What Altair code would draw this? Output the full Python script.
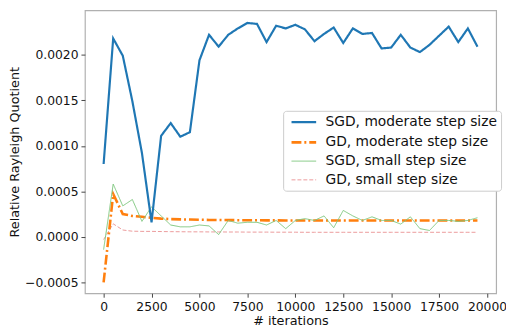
import altair as alt
import pandas as pd

iterations = [i * 500 for i in range(40)]

sgd_moderate = [0.00080, 0.00218, 0.00199, 0.00149, 0.00092, 0.00016, 0.00111, 0.00125, 0.00110, 0.00115,
                0.00194, 0.00222, 0.00209, 0.00222, 0.00229, 0.00235, 0.00234, 0.00214, 0.00232, 0.00229,
                0.00233, 0.00228, 0.00215, 0.00223, 0.00230, 0.00213, 0.00229, 0.00223, 0.00224, 0.00207,
                0.00208, 0.00222, 0.00208, 0.00203, 0.00211, 0.00221, 0.00231, 0.00214, 0.00229, 0.00209]

gd_moderate = [-0.00050, 0.00047, 0.00025, 0.00023, 0.00022, 0.00021, 0.000200, 0.000195, 0.000192, 0.000190,
               0.000188, 0.000186, 0.000185, 0.000184, 0.000183, 0.000182, 0.000182, 0.000181, 0.000181, 0.000180,
               0.000180, 0.000180, 0.000180, 0.000180, 0.000180, 0.000180, 0.000180, 0.000180, 0.000180, 0.000180,
               0.000180, 0.000180, 0.000180, 0.000180, 0.000180, 0.000180, 0.000180, 0.000180, 0.000180, 0.000180]

sgd_small = [-0.00014, 0.00058, 0.00034, 0.00041, 0.00017, 0.00033, 0.00023, 0.00013, 0.00011, 0.00011,
             0.00013, 0.00012, 0.000025, 0.00018, 0.00015, 0.00016, 0.00016, 0.00013, 0.00018, 0.00009,
             0.00018, 0.00020, 0.00018, 0.00023, 0.00010, 0.00029, 0.00023, 0.00018, 0.00022, 0.00018,
             0.00018, 0.00014, 0.00022, 0.00009, 0.00007, 0.00018, 0.00018, 0.00017, 0.00018, 0.00021]

gd_small = [-0.00003, 0.000143, 0.000075, 0.000062, 0.000060, 0.000060, 0.000058, 0.000057, 0.000056, 0.000055,
            0.000055, 0.000054, 0.000054, 0.000053, 0.000053, 0.000052, 0.000052, 0.000052, 0.000051, 0.000051,
            0.000051, 0.000050, 0.000050, 0.000050, 0.000050, 0.000050, 0.000050, 0.000050, 0.000050, 0.000050,
            0.000050, 0.000050, 0.000050, 0.000050, 0.000050, 0.000050, 0.000050, 0.000050, 0.000050, 0.000050]

series_names = ["SGD, moderate step size", "GD, moderate step size",
                "SGD, small step size", "GD, small step size"]
series_values = [sgd_moderate, gd_moderate, sgd_small, gd_small]
series_colors = ["#1f77b4", "#ff7f0e", "#7dc67d", "#ec9a9b"]
series_dash = [[1, 0], [10, 3, 2, 3], [1, 0], [4, 2]]
series_width = [2.2, 2.6, 1.0, 1.0]
draw_order = ["GD, small step size", "GD, moderate step size",
              "SGD, small step size", "SGD, moderate step size"]

x_ticks = [0, 2500, 5000, 7500, 10000, 12500, 15000, 17500, 20000]
y_ticks = [-0.0005, 0.0, 0.0005, 0.0010, 0.0015, 0.0020]

rows = []
for name, vals in zip(series_names, series_values):
    for it, v in zip(iterations, vals):
        rows.append({"iter": it, "value": v, "series": name})
df = pd.DataFrame(rows)

leg = alt.Legend(
    title=None, orient="none", legendX=201, legendY=102,
    labelFontSize=14, labelFont="DejaVu Sans", labelColor="#111", labelOpacity=1,
    symbolType="M-2,0H2", symbolSize=156, rowPadding=5, symbolOpacity=1,
    padding=4, symbolOffset=9, labelOffset=14,
    strokeColor="#cccccc", fillColor="white", cornerRadius=3,
    labelLimit=300,
)

base = alt.Chart(df).mark_line().encode(
    x=alt.X("iter:Q", scale=alt.Scale(domain=[-975, 20475], nice=False, zero=False),
            axis=alt.Axis(title="# iterations", values=x_ticks, format="d", grid=False)),
    y=alt.Y("value:Q", scale=alt.Scale(domain=[-0.00062, 0.00249], nice=False, zero=False),
            axis=alt.Axis(title="Relative Rayleigh Quotient", values=y_ticks, format=".4f", grid=False)),
    color=alt.Color("series:N", scale=alt.Scale(domain=series_names, range=series_colors), legend=leg),
    strokeDash=alt.StrokeDash("series:N", scale=alt.Scale(domain=series_names, range=series_dash), legend=leg),
    strokeWidth=alt.StrokeWidth("series:N", scale=alt.Scale(type="ordinal", domain=series_names, range=series_width), legend=None),
)

layers = [base.transform_filter(alt.datum.series == name) for name in draw_order]

chart = alt.layer(*layers).properties(
    width=417, height=287,
    autosize=alt.AutoSizeParams(type="none"),
    padding={"left": 78, "top": 0, "right": 10, "bottom": 36},
).configure_view(
    stroke="#b0b0b0", strokeWidth=1.2
).configure_axis(
    domain=False, tickColor="#444", tickSize=4, tickWidth=1,
    labelFontSize=12.5, labelFont="DejaVu Sans", labelColor="#111", labelPadding=3,
    titleFontSize=13, titleFont="DejaVu Sans", titleFontWeight="normal", titleColor="#111",
).configure_axisY(titlePadding=3).configure_axisX(titlePadding=2).configure_legend(
    symbolStrokeWidth=2
)

chart.save("out.html", embed_options={"renderer": "svg", "actions": False})
